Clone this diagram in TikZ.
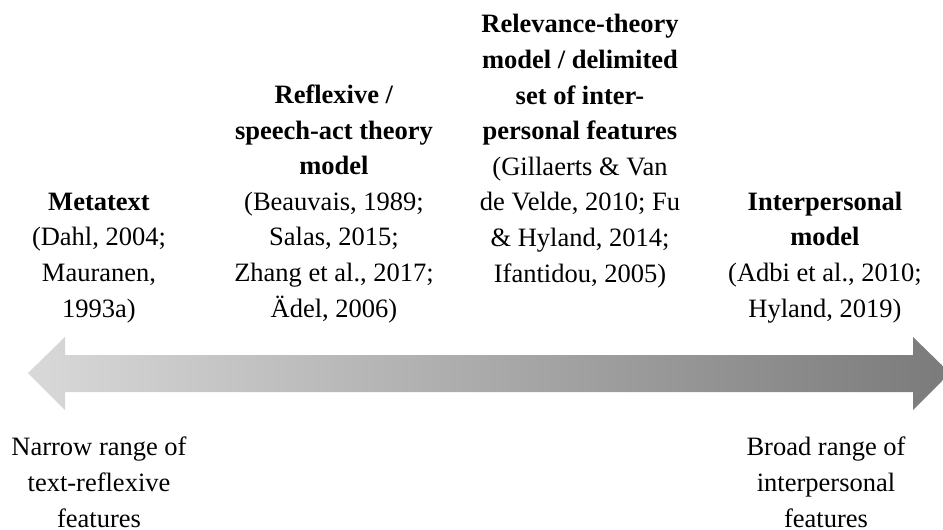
\documentclass[tikz,border=0pt]{standalone}
\usepackage{fontspec}
\setmainfont{Liberation Serif}
\definecolor{arrowlight}{gray}{0.85}
\definecolor{arrowdark}{gray}{0.48}

\begin{document}
\begin{tikzpicture}[
    x=1pt, y=1pt,
    model/.style={align=center, anchor=base, inner sep=0pt, font=\fontsize{26.5}{35.6}\selectfont},
    rangetext/.style={model}
]
\useasboundingbox (0,0) rectangle (943,-530);

% scale of models
\shade[left color=arrowlight, right color=arrowdark]
    (28,-373) -- (65,-337) -- (65,-355) -- (913,-355) -- (913,-337)
    -- (950,-373) -- (913,-410) -- (913,-392) -- (65,-392) -- (65,-410) -- cycle;

% base = baseline of the last line
\node[model] (metatext) at (99,-317) {\textbf{Metatext}\\(Dahl, 2004;\\Mauranen,\\1993a)};
\node[model] (reflexive) at (334,-317) {\textbf{Reflexive /}\\\textbf{speech-act theory}\\\textbf{model}\\(Beauvais, 1989;\\Salas, 2015;\\Zhang et al., 2017;\\Ädel, 2006)};
\node[model] (relevance) at (580,-282) {\textbf{Relevance-theory}\\\textbf{model / delimited}\\\textbf{set of inter-}\\\textbf{personal features}\\(Gillaerts \& Van\\de Velde, 2010; Fu\\\& Hyland, 2014;\\Ifantidou, 2005)};
\node[model] (interpersonal) at (825,-317) {\textbf{Interpersonal}\\\textbf{model}\\(Adbi et al., 2010;\\Hyland, 2019)};

\node[rangetext] (narrow) at (99,-527) {Narrow range of\\text-reflexive\\features};
\node[rangetext] (broad) at (826,-527) {Broad range of\\interpersonal\\features};
\end{tikzpicture}
\end{document}
